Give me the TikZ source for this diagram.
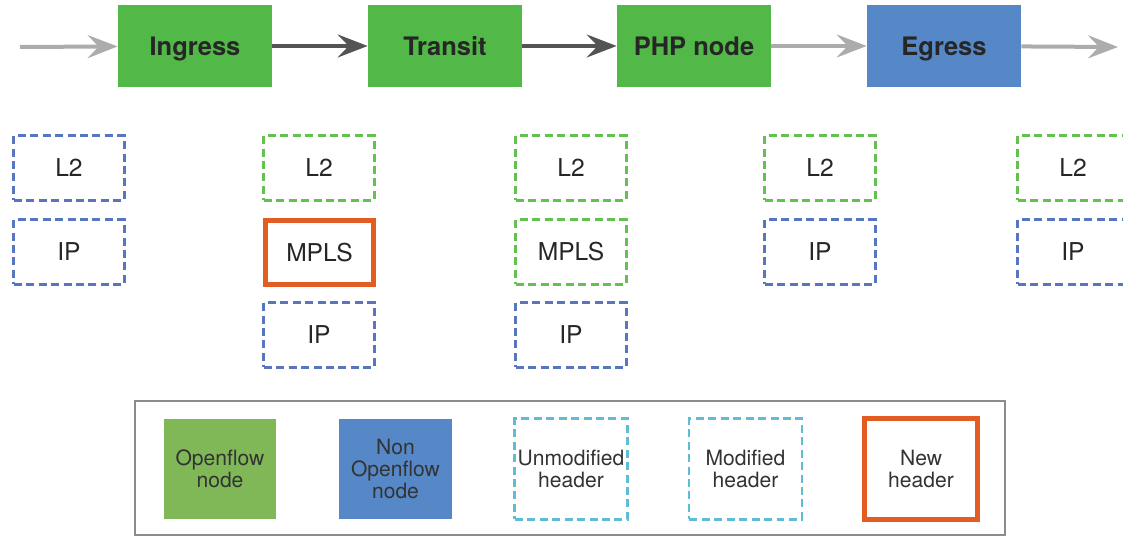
\documentclass[tikz,border=0pt]{standalone}
\usepackage{fontspec}
\setmainfont{TeX Gyre Heros}
\usetikzlibrary{arrows.meta}
\usepackage{xcolor}
\definecolor{ofgreen}{RGB}{82,184,72}
\definecolor{ofblue}{RGB}{86,136,200}
\definecolor{lgdgreen}{RGB}{128,184,88}
\definecolor{dashgreen}{RGB}{100,192,80}
\definecolor{dashblue}{RGB}{88,118,192}
\definecolor{newred}{RGB}{228,92,34}
\definecolor{modcyan}{RGB}{96,188,212}
\definecolor{arrlight}{RGB}{172,172,172}
\definecolor{arrdark}{RGB}{84,84,84}
\newcommand{\hdr}[5]{\node[hdrbox,#4] (#1) at (#2,#3) {#5};}
\newcommand{\lgd}[4]{\node[lgdbox,#3] (#1) at (#2,469) {#4};}

\begin{document}
\begin{tikzpicture}[x=0.02cm,y=-0.02cm,
    topbox/.style={minimum width=3.08cm,minimum height=1.64cm,inner sep=0pt,
      text height=10.4pt,text depth=0pt,
      text=black!85,font=\bfseries\fontsize{14.5}{17}\selectfont},
    hdrbox/.style={minimum width=2.22cm,minimum height=1.3cm,inner sep=0pt,
      text height=10pt,text depth=0pt,
      text=black!85,font=\fontsize{14}{16}\selectfont},
    lgdbox/.style={minimum width=2.26cm,minimum height=2.02cm,inner sep=0pt,align=center,
      text=black!80,font=\fontsize{12}{12.5}\selectfont},
    dsh/.style={line width=0.05cm,dash pattern=on 0.16cm off 0.09cm},
    unmod/.style={draw=dashblue,dsh},
    mod/.style={draw=dashgreen,dsh},
    newhdr/.style={draw=newred,line width=0.1cm,minimum width=2.18cm,minimum height=1.28cm},
    flow/.style={line width=0.08cm,-{Stealth[length=0.6cm,width=0.46cm,inset=0.22cm]}},
  ]

    \clip (0,0) rectangle (1123,537);

    % nodes on the path
    \node[topbox,fill=ofgreen] (ingress) at (195,46) {Ingress};
    \node[topbox,fill=ofgreen] (transit) at (445,46) {Transit};
    \node[topbox,fill=ofgreen] (php) at (694,46) {PHP node};
    \node[topbox,fill=ofblue] (egress) at (944,46) {Egress};

    \coordinate (in) at (20,47);
    \coordinate (out) at (1118,47);

    \draw[flow,arrlight] (in) -- (ingress);
    \draw[flow,arrdark] (ingress) -- (transit);
    \draw[flow,arrdark] (transit) -- (php);
    \draw[flow,arrlight] (php) -- (egress);
    \draw[flow,arrlight] (egress) -- (out);

    % header stacks
    \hdr{i-l2}{69}{168}{unmod}{L2};
    \hdr{i-ip}{69}{252}{unmod}{IP};

    \hdr{t-l2}{319}{168}{mod}{L2};
    \hdr{t-mpls}{319.5}{252.5}{newhdr}{MPLS};
    \hdr{t-ip}{319}{335}{unmod}{IP};

    \hdr{p-l2}{571}{168}{mod}{L2};
    \hdr{p-mpls}{571}{252}{mod}{MPLS};
    \hdr{p-ip}{571}{335}{unmod}{IP};

    \hdr{e-l2}{820}{168}{mod}{L2};
    \hdr{e-ip}{820}{252}{unmod}{IP};

    \hdr{o-l2}{1073}{168}{mod}{L2};
    \hdr{o-ip}{1073}{252}{unmod}{IP};

    % legend
    \draw[black!45,line width=0.04cm] (135,401) rectangle (1005,535);
    \lgd{lg-of}{220}{fill=lgdgreen}{Openflow\\node};
    \lgd{lg-nof}{395.5}{fill=ofblue}{Non\\Openflow\\node};
    \lgd{lg-unmod}{571}{draw=modcyan,dsh}{Unmodified\\header};
    \lgd{lg-mod}{745.5}{draw=modcyan,dsh}{Modified\\header};
    \lgd{lg-new}{921}{draw=newred,line width=0.1cm,minimum width=2.26cm,minimum height=2.04cm}{New\\header};
\end{tikzpicture}
\end{document}
